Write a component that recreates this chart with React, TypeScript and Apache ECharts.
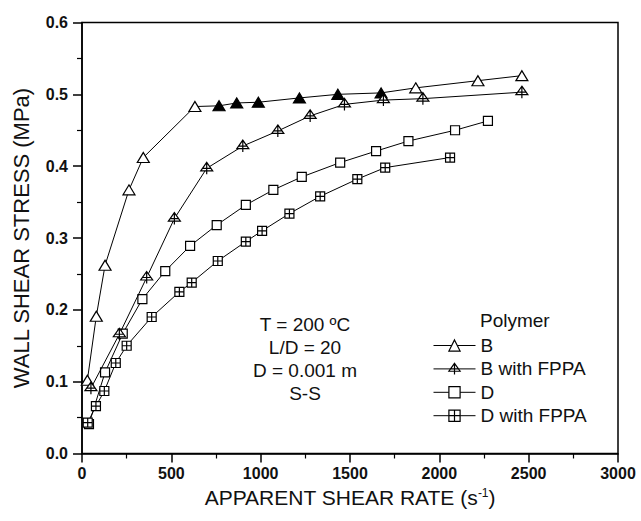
import React, { useEffect, useRef } from "react";
import * as echarts from "echarts";

// ---- data ----
const B_X = [30, 80, 129, 263, 343, 632, 767, 866, 987, 1217, 1432, 1674, 1868, 2216, 2462];
const B_Y = [0.102, 0.191, 0.262, 0.367, 0.412, 0.483, 0.484, 0.488, 0.489, 0.495, 0.5, 0.502, 0.509, 0.519, 0.526];
// indices of B points drawn as filled triangles
const B_FILLED = [6, 7, 8, 9, 10, 11];

const BF_X = [50, 209, 362, 517, 698, 900, 1096, 1277, 1469, 1687, 1908, 2462];
const BF_Y = [0.091, 0.166, 0.245, 0.327, 0.397, 0.428, 0.449, 0.47, 0.486, 0.492, 0.494, 0.503];

const D_X = [39, 129, 228, 338, 466, 605, 754, 917, 1071, 1230, 1445, 1646, 1827, 2088, 2272];
const D_Y = [0.041, 0.113, 0.167, 0.215, 0.254, 0.289, 0.318, 0.346, 0.367, 0.385, 0.405, 0.421, 0.435, 0.45, 0.463];

const DF_X = [32, 78, 125, 189, 250, 390, 545, 614, 760, 917, 1008, 1161, 1333, 1541, 1697, 2060];
const DF_Y = [0.043, 0.066, 0.087, 0.126, 0.15, 0.19, 0.225, 0.238, 0.268, 0.295, 0.31, 0.334, 0.358, 0.382, 0.398, 0.412];

const SERIES_NAMES = ["B", "B with FPPA", "D", "D with FPPA"];
const ANNOTATION = ["T = 200 ºC", "L/D = 20", "D = 0.001 m", "S-S"];
const LEGEND_TITLE = "Polymer";
const X_TITLE = "APPARENT SHEAR RATE (s";
const Y_TITLE = "WALL SHEAR STRESS (MPa)";

const FONT = "'Liberation Sans', Arial, Helvetica, sans-serif";
const TRI_PLUS = "path://M5 0 L10 8.5 L0 8.5 Z M5 0 L5 12 M1.6 6 L8.4 6";
const SQ_PLUS = "path://M0 0 L10 0 L10 10 L0 10 Z M5 0 L5 10 M0 5 L10 5";

const zip = (xs: number[], ys: number[]) => xs.map((x, i) => [x, ys[i]]);

export default function App() {
  const ref = useRef<HTMLDivElement>(null);
  useEffect(() => {
    if (!ref.current) return;
    const chart = echarts.init(ref.current, undefined, { renderer: "svg" });
    const markerStyle = { color: "#fff", borderColor: "#000", borderWidth: 1.2 };
    const lineStyle = { color: "#000", width: 1 };
    const bData = zip(B_X, B_Y).map((p, i) =>
      B_FILLED.includes(i)
        ? { value: p, itemStyle: { color: "#000", borderColor: "#000" } }
        : { value: p }
    );
    const option: any = {
      animation: false,
      backgroundColor: "#fff",
      grid: {
        left: 82,
        top: 22.5,
        right: 23,
        bottom: 67.5,
        containLabel: false,
        outerBoundsMode: "none",
        show: true,
        borderColor: "#000",
        borderWidth: 1.5,
        backgroundColor: "transparent",
      },
      xAxis: {
        type: "value",
        min: 0,
        max: 3000,
        interval: 500,
        name: `{a|${X_TITLE}}{sup|-1}{a|)}`,
        nameLocation: "middle",
        nameGap: 33,
        nameTextStyle: {
          fontFamily: FONT,
          fontSize: 21,
          color: "#111",
          rich: {
            a: { fontFamily: FONT, fontSize: 21, color: "#111" },
            sup: { fontFamily: FONT, fontSize: 12, color: "#111", padding: [0, 0, 10, 0] },
          },
        },
        axisLine: { show: true, lineStyle: { color: "#000", width: 1.5 } },
        axisTick: { show: true, length: 9, lineStyle: { color: "#000", width: 1.5 } },
        minorTick: { show: true, splitNumber: 2, length: 5, lineStyle: { color: "#000", width: 1.2 } },
        splitLine: { show: false },
        axisLabel: {
          margin: 12,
          fontFamily: FONT,
          fontSize: 16,
          fontWeight: "bold",
          color: "#111",
          formatter: (v: number) => String(v),
        },
      },
      yAxis: {
        type: "value",
        min: 0,
        max: 0.6,
        interval: 0.1,
        name: Y_TITLE,
        nameLocation: "middle",
        nameRotate: 90,
        nameGap: 50,
        nameTextStyle: { fontFamily: FONT, fontSize: 22, color: "#111" },
        axisLine: { show: true, lineStyle: { color: "#000", width: 1.5 } },
        axisTick: { show: true, length: 9, lineStyle: { color: "#000", width: 1.5 } },
        minorTick: { show: true, splitNumber: 2, length: 5, lineStyle: { color: "#000", width: 1.2 } },
        splitLine: { show: false },
        axisLabel: {
          margin: 14,
          fontFamily: FONT,
          fontSize: 16,
          fontWeight: "bold",
          color: "#111",
          formatter: (v: number) => v.toFixed(1),
        },
      },
      legend: {
        data: SERIES_NAMES,
        orient: "vertical",
        left: 428,
        top: 331,
        padding: 5,
        itemWidth: 42,
        itemHeight: 14,
        itemGap: 4.4,
        textStyle: { fontFamily: FONT, fontSize: 19, color: "#111", lineHeight: 17 },
        itemStyle: { color: "#fff", borderColor: "#000", borderWidth: 1.2 },
        lineStyle: { color: "#000", width: 1 },
      },
      graphic: [
        {
          type: "text",
          left: 480,
          top: 311,
          style: { text: LEGEND_TITLE, font: `19px ${FONT}`, fill: "#111" },
        },
        ...ANNOTATION.map((t, i) => ({
          type: "text",
          x: 305,
          y: 324 + i * 23,
          style: {
            text: t,
            font: `19px ${FONT}`,
            fill: "#111",
            textAlign: "center",
            textVerticalAlign: "middle",
          },
        })),
      ],
      series: [
        {
          name: SERIES_NAMES[0],
          type: "line",
          data: bData,
          symbol: "triangle",
          symbolSize: [12, 10],
          color: "#000",
          itemStyle: markerStyle,
          lineStyle,
          z: 3,
        },
        {
          name: SERIES_NAMES[1],
          type: "line",
          data: zip(BF_X, BF_Y),
          symbol: TRI_PLUS,
          symbolSize: 12,
          color: "#000",
          itemStyle: markerStyle,
          lineStyle,
          z: 4,
        },
        {
          name: SERIES_NAMES[2],
          type: "line",
          data: zip(D_X, D_Y),
          symbol: "rect",
          symbolSize: 9,
          color: "#000",
          itemStyle: markerStyle,
          lineStyle,
          z: 3,
        },
        {
          name: SERIES_NAMES[3],
          type: "line",
          data: zip(DF_X, DF_Y),
          symbol: SQ_PLUS,
          symbolSize: 9,
          color: "#000",
          itemStyle: markerStyle,
          lineStyle,
          z: 3,
        },
      ],
    };
    chart.setOption(option);
    return () => chart.dispose();
  }, []);
  return (
    <div
      ref={ref}
      style={{ position: "absolute", left: 0, top: 0, width: 641, height: 521, background: "#fff" }}
    />
  );
}
